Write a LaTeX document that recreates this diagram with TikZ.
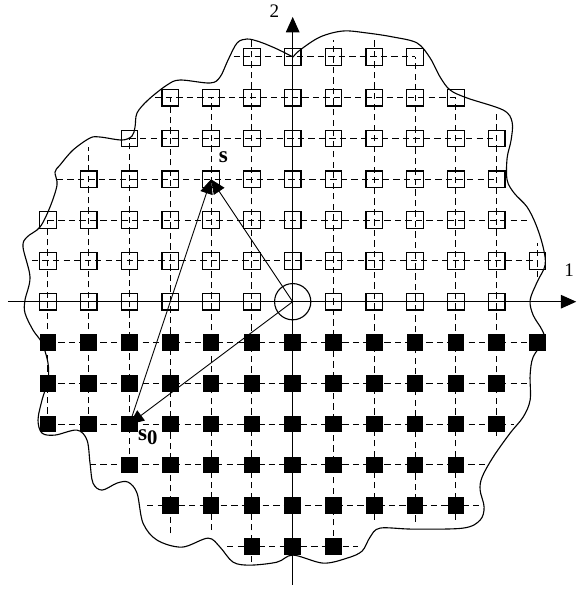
\documentclass[tikz,border=0pt]{standalone}
\usepackage{fontspec}
\setmainfont{Liberation Serif}
\usetikzlibrary{arrows.meta}

\begin{document}
\begin{tikzpicture}[
  x=0.9cm, y=0.9cm,
  font=\fontsize{12}{14}\selectfont,
  grid/.style={dash pattern=on 4pt off 2.6pt, line width=0.55pt},
  opensq/.style={draw, line width=0.75pt, minimum size=0.365cm, inner sep=0pt},
  fullsq/.style={fill=black, minimum size=0.37cm, inner sep=0pt},
  axis/.style={line width=0.7pt, -{Triangle[length=0.34cm, width=0.3cm]}},
  vec/.style={line width=0.55pt, -{Triangle[length=0.32cm, width=0.28cm]}},
  lbl/.style={font=\fontsize{14.5}{16}\selectfont\bfseries, inner sep=0pt}
]
  \useasboundingbox (-7.174,-7.164) rectangle (6.944,7.395);
  % dashed lattice lines: rows, then columns
  \foreach \j/\a/\b in {6/-1.45/3, 5/-3.37/4, 4/-4/5, 3/-5.78/5, 2/-6/5.82, 1/-6.39/6,
      -1/-6/6, -2/-6/5.77, -3/-6/5.43, -4/-4.97/4.71, -5/-3.57/4.67, -6/-1.61/1.6}
    \draw[grid] (\a,\j) -- (\b,\j);
  \foreach \i/\a/\b in {-6/-3/2, -5/-3/3.79, -4/-4/4, -3/-5.68/5, -2/-5.6/5, -1/-6.38/6.41,
      1/-6/6.41, 2/-5.35/6.41, 3/-5.39/6, 4/-5.35/5, 5/-3.28/4.65, 6/0.6/1.43}
    \draw[grid] (\i,\a) -- (\i,\b);

  % boundary of the region (pixel units)
  \begin{scope}[shift={(-7.174,7.395)}, x=0.022059cm, y=-0.022059cm]
    \draw[line width=0.7pt] plot[smooth, tension=0.55] coordinates {
      (293,57) (300,50) (320,37) (343,31) (367,33) (393,37) (417,43) (430,58)
      (440,77) (450,90) (467,98) (503,110) (512,122) (511,140) (507,158) (507,180)
      (514,193) (527,207) (536,225) (543,247) (545,265) (537,282) (530,300) (533,315)
      (542,330) (544,340) (533,357) (530,375) (530,400) (523,417) (510,433) (493,457)
      (482,477) (480,490) (484,507) (480,520) (463,528) (413,529) (380,528) (370,537)
      (362,551) (347,558) (323,563) (293,555) (277,562) (250,565) (233,562) (220,547)
      (208,538) (182,547) (157,540) (143,523) (137,493) (128,482) (117,483) (102,490)
      (93,483) (90,463) (87,440) (77,430) (55,435) (42,433) (38,420) (42,400)
      (48,380) (48,363) (42,343) (33,330) (25,313) (25,300) (30,277) (23,247)
      (27,237) (40,227) (50,207) (57,185) (55,172) (60,165) (73,150) (90,138)
      (100,137) (122,140) (132,136) (135,127) (137,113) (148,100) (167,85) (180,80)
      (210,83) (220,77) (228,60) (237,43) (247,39) (260,42) (277,49) (293,57)};
  \end{scope}

  % axes
  \coordinate (xl) at (-6.98,0);
  \coordinate (xr) at (6.95,0);
  \coordinate (yb) at (0,-6.94);
  \coordinate (yt) at (0,6.98);
  \draw[axis] (xl) -- (xr);
  \draw[axis] (yb) -- (yt);
  \node[inner sep=0pt] (lab2) at (-0.45,7.13) {2};
  \node[inner sep=0pt, anchor=base east] (lab1) at (6.9,0.63) {1};

  % lattice points
  \foreach \j/\a/\b in {6/-1/3, 5/-3/4, 4/-4/5, 3/-5/5, 2/-6/5, 1/-6/6}
    \foreach \i in {\a,...,\b}
      \node[opensq] (q\i x\j) at (\i,\j) {};
  \foreach \i in {-6,-5,-4,-3,-2,-1,1,2,3,4,5}
    \node[opensq] (q\i x0) at (\i,0) {};
  \foreach \j/\a/\b in {-1/-6/6, -2/-6/5, -3/-6/5, -4/-4/4, -5/-3/4, -6/-1/1}
    \foreach \i in {\a,...,\b}
      \node[fullsq] (q\i x\j) at (\i,\j) {};
  \node[draw, circle, line width=0.7pt, minimum size=0.8cm, inner sep=0pt] (o) at (0,0) {};

  \draw[vec] (o.center) -- (q-2x3.center);
  \draw[vec] (o.center) -- (q-4x-3.center);
  \draw[vec] (q-4x-3.center) -- (q-2x3.center);
  \node[lbl] (s) at (-1.70,3.54) {s};
  \node[lbl] (s0) at (-3.55,-3.32) {s\raisebox{-0.4ex}{\fontsize{13}{13}\selectfont 0}};
\end{tikzpicture}
\end{document}
